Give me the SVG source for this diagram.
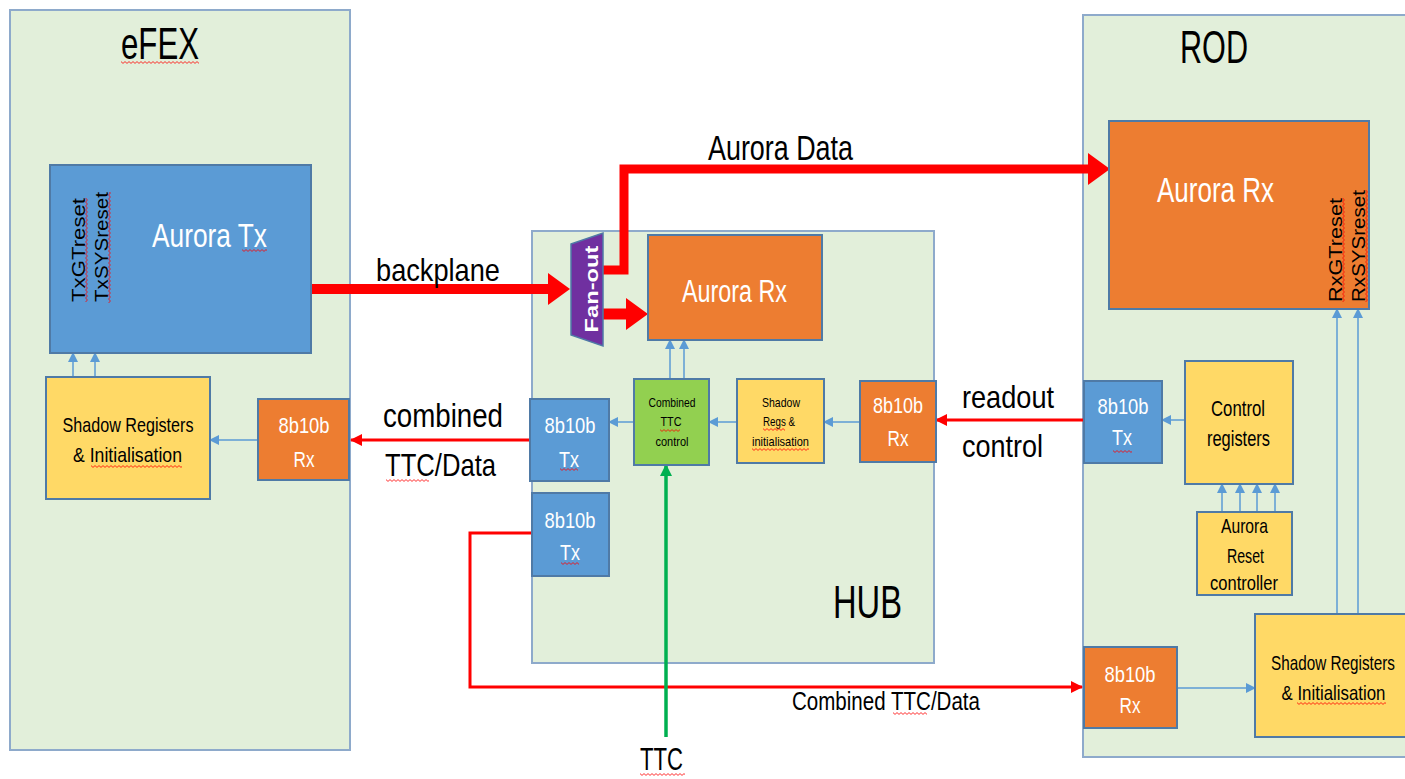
<svg xmlns="http://www.w3.org/2000/svg" width="1405" height="779" viewBox="0 0 1405 779">
  <style>
    text { font-family: "Liberation Sans", Arial, sans-serif; fill: #000; }
    .mid { text-anchor: middle; }
    .w { fill: #fff; }
    .crate { fill: #e2efda; stroke: #8eaacb; stroke-width: 2; }
    .box { stroke: #4f7aa6; stroke-width: 2; }
    .blue { fill: #5b9bd5; }
    .orange { fill: #ed7d31; }
    .yellow { fill: #ffd966; }
    .green { fill: #92d050; }
    .purple { fill: #7030a0; }
    .link { fill: none; stroke: #5b9bd5; stroke-width: 1.5; marker-end: url(#ah); }
    .red { fill: none; stroke: #ff0000; stroke-width: 3; marker-end: url(#rh); }
    .thick { fill: none; stroke: #ff0000; marker-end: url(#bh); stroke-linejoin: miter; }
    .sq { fill: url(#sq); }
  </style>
  <defs>
    <marker id="ah" markerUnits="userSpaceOnUse" markerWidth="10" markerHeight="10" refX="9" refY="5" orient="auto">
      <path d="M0,0 L10,5 L0,10 Z" fill="#5b9bd5"/>
    </marker>
    <marker id="rh" markerUnits="userSpaceOnUse" markerWidth="12" markerHeight="12" refX="11" refY="6" orient="auto">
      <path d="M0,0 L12,6 L0,12 Z" fill="#ff0000"/>
    </marker>
    <marker id="gh" markerUnits="userSpaceOnUse" markerWidth="12" markerHeight="12" refX="11" refY="6" orient="auto">
      <path d="M0,0 L12,6 L0,12 Z" fill="#00b050"/>
    </marker>
    <marker id="bh" markerUnits="userSpaceOnUse" markerWidth="22" markerHeight="32" refX="0" refY="16" orient="auto">
      <path d="M0,0 L22,16 L0,32 Z" fill="#ff0000"/>
    </marker>
    <!-- wavy spell-check underline -->
    <pattern id="sq" width="4" height="3" patternUnits="userSpaceOnUse">
      <path d="M0,0.6 L2,2.4 L4,0.6" fill="none" stroke="#ff0000" stroke-width="0.8"/>
    </pattern>
  </defs>

  <rect width="1405" height="779" fill="#fff"/>

  <!-- crates -->
  <g id="efex">
    <rect class="crate" x="10" y="10" width="340" height="740"/>
    <text class="mid" x="160" y="59" font-size="45" textLength="78" lengthAdjust="spacingAndGlyphs">eFEX</text>
    <rect class="sq" width="78" height="3" transform="translate(121,61)"/>
  </g>
  <g id="hub">
    <rect class="crate" x="532" y="231" width="402" height="432"/>
    <text class="mid" x="867.5" y="618" font-size="47" textLength="69" lengthAdjust="spacingAndGlyphs">HUB</text>
  </g>
  <g id="rod">
    <rect class="crate" x="1083" y="15" width="323" height="742"/>
    <text class="mid" x="1214" y="63" font-size="47" textLength="68" lengthAdjust="spacingAndGlyphs">ROD</text>
  </g>

  <!-- connectors -->
  <g id="connectors">
    <!-- eFEX internal -->
    <line class="link" x1="73" y1="376" x2="73" y2="353"/>
    <line class="link" x1="95" y1="376" x2="95" y2="353"/>
    <line class="link" x1="258" y1="440" x2="210" y2="440"/>
    <!-- HUB internal -->
    <line class="link" x1="670" y1="379" x2="670" y2="340"/>
    <line class="link" x1="684" y1="379" x2="684" y2="340"/>
    <line class="link" x1="737" y1="422" x2="709" y2="422"/>
    <line class="link" x1="634" y1="422" x2="609" y2="422"/>
    <line class="link" x1="860" y1="422" x2="824" y2="422"/>
    <!-- ROD internal -->
    <line class="link" x1="1185" y1="420" x2="1162" y2="420"/>
    <line class="link" x1="1222" y1="512" x2="1222" y2="484"/>
    <line class="link" x1="1240" y1="512" x2="1240" y2="484"/>
    <line class="link" x1="1257" y1="512" x2="1257" y2="484"/>
    <line class="link" x1="1275" y1="512" x2="1275" y2="484"/>
    <line class="link" x1="1337" y1="614" x2="1337" y2="309"/>
    <line class="link" x1="1358" y1="614" x2="1358" y2="309"/>
    <line class="link" x1="1177" y1="688" x2="1255" y2="688"/>

    <!-- links between crates -->
    <line class="red" x1="530" y1="440" x2="351" y2="440"/>
    <line class="red" x1="1083" y1="420" x2="936" y2="420"/>
    <path class="red" d="M532,533 H470 V687 H1082"/>
    <line x1="666" y1="737" x2="666" y2="465" stroke="#00b050" stroke-width="3.5" marker-end="url(#gh)"/>

    <!-- backplane and Aurora data -->
    <line class="thick" x1="311" y1="289" x2="548" y2="289" stroke-width="10"/>
    <line class="thick" x1="603" y1="314" x2="626" y2="314" stroke-width="11"/>
    <path class="thick" d="M603,270 H624 V169 H1088" stroke-width="9"/>

    <!-- labels -->
    <text class="mid" x="438" y="281" font-size="32" textLength="124" lengthAdjust="spacingAndGlyphs">backplane</text>
    <text class="mid" x="780.5" y="160" font-size="35" textLength="145" lengthAdjust="spacingAndGlyphs">Aurora Data</text>
    <text class="mid" x="443" y="427" font-size="33" textLength="120" lengthAdjust="spacingAndGlyphs">combined</text>
    <text class="mid" x="440.5" y="476" font-size="32" textLength="111" lengthAdjust="spacingAndGlyphs">TTC/Data</text>
    <rect class="sq" width="43" height="3" transform="translate(386,479)"/>
    <text class="mid" x="1008" y="408" font-size="32" textLength="92" lengthAdjust="spacingAndGlyphs">readout</text>
    <text class="mid" x="1002.5" y="457" font-size="32" textLength="81" lengthAdjust="spacingAndGlyphs">control</text>
    <text class="mid" x="886" y="710" font-size="25" textLength="188" lengthAdjust="spacingAndGlyphs">Combined TTC/Data</text>
    <rect class="sq" width="34" height="3" transform="translate(893,712)"/>
    <text class="mid" x="661.5" y="770" font-size="32" textLength="43" lengthAdjust="spacingAndGlyphs">TTC</text>
    <rect class="sq" width="45" height="3" transform="translate(640,773)"/>
  </g>

  <!-- eFEX nodes -->
  <g id="efex-aurora-tx">
    <rect class="box blue" x="50" y="165" width="261" height="188"/>
    <text class="mid w" x="209.5" y="247" font-size="33" textLength="115" lengthAdjust="spacingAndGlyphs">Aurora Tx</text>
    <rect class="sq" width="25" height="3" transform="translate(242,249)"/>
    <text class="mid" font-size="18" textLength="104" lengthAdjust="spacingAndGlyphs" transform="translate(85,250) rotate(-90)">TxGTreset</text>
    <text class="mid" font-size="18" textLength="110" lengthAdjust="spacingAndGlyphs" transform="translate(108,247) rotate(-90)">TxSYSreset</text>
    <rect class="sq" width="104" height="3" transform="translate(85,302) rotate(-90)"/>
    <rect class="sq" width="111" height="3" transform="translate(108,303) rotate(-90)"/>
  </g>
  <g id="efex-shadow">
    <rect class="box yellow" x="46" y="377" width="164" height="122"/>
    <text class="mid" x="128" y="432" font-size="21" textLength="131" lengthAdjust="spacingAndGlyphs">Shadow Registers</text>
    <text class="mid" x="127.5" y="462" font-size="21" textLength="109" lengthAdjust="spacingAndGlyphs">&amp; Initialisation</text>
    <rect class="sq" width="91" height="3" transform="translate(91,465)"/>
  </g>
  <g id="efex-rx">
    <rect class="box orange" x="258" y="399" width="91" height="81"/>
    <text class="mid w" x="304" y="433" font-size="22" textLength="51" lengthAdjust="spacingAndGlyphs">8b10b</text>
    <text class="mid w" x="304" y="467" font-size="22" textLength="21" lengthAdjust="spacingAndGlyphs">Rx</text>
  </g>

  <!-- HUB nodes -->
  <g id="hub-fanout">
    <polygon class="purple" points="571,244 603,233 603,346 571,335" stroke="#4f7aa6" stroke-width="1.5"/>
    <text class="mid w" font-size="19" font-weight="bold" textLength="87" lengthAdjust="spacingAndGlyphs" transform="translate(598,289) rotate(-90)">Fan-out</text>
  </g>
  <g id="hub-aurora-rx">
    <rect class="box orange" x="648" y="235" width="174" height="105"/>
    <text class="mid w" x="734.5" y="302" font-size="31" textLength="105" lengthAdjust="spacingAndGlyphs">Aurora Rx</text>
  </g>
  <g id="hub-ttc-control">
    <rect class="box green" x="634" y="379" width="75" height="86"/>
    <text class="mid" x="672" y="407" font-size="13" textLength="47" lengthAdjust="spacingAndGlyphs">Combined</text>
    <text class="mid" x="671" y="426" font-size="13" textLength="21" lengthAdjust="spacingAndGlyphs">TTC</text>
    <text class="mid" x="672" y="446" font-size="13" textLength="33" lengthAdjust="spacingAndGlyphs">control</text>
    <rect class="sq" width="20" height="3" transform="translate(660,429)"/>
  </g>
  <g id="hub-shadow">
    <rect class="box yellow" x="737" y="379" width="87" height="84"/>
    <text class="mid" x="781" y="407" font-size="13" textLength="38" lengthAdjust="spacingAndGlyphs">Shadow</text>
    <text class="mid" x="779" y="426" font-size="13" textLength="32" lengthAdjust="spacingAndGlyphs">Regs &amp;</text>
    <text class="mid" x="780.5" y="446" font-size="13" textLength="57" lengthAdjust="spacingAndGlyphs">initialisation</text>
    <rect class="sq" width="22" height="3" transform="translate(763,428)"/>
    <rect class="sq" width="57" height="3" transform="translate(752,448)"/>
  </g>
  <g id="hub-rx">
    <rect class="box orange" x="860" y="381" width="76" height="81"/>
    <text class="mid w" x="898" y="413" font-size="22" textLength="50" lengthAdjust="spacingAndGlyphs">8b10b</text>
    <text class="mid w" x="898" y="446" font-size="22" textLength="21" lengthAdjust="spacingAndGlyphs">Rx</text>
  </g>
  <g id="hub-tx-1">
    <rect class="box blue" x="530" y="399" width="79" height="82"/>
    <text class="mid w" x="570" y="433" font-size="22" textLength="51" lengthAdjust="spacingAndGlyphs">8b10b</text>
    <text class="mid w" x="569" y="467" font-size="22" textLength="20" lengthAdjust="spacingAndGlyphs">Tx</text>
    <rect class="sq" width="18" height="3" transform="translate(560,468)"/>
  </g>
  <g id="hub-tx-2">
    <rect class="box blue" x="532" y="493" width="77" height="83"/>
    <text class="mid w" x="570" y="528" font-size="22" textLength="51" lengthAdjust="spacingAndGlyphs">8b10b</text>
    <text class="mid w" x="570" y="560" font-size="22" textLength="20" lengthAdjust="spacingAndGlyphs">Tx</text>
    <rect class="sq" width="18" height="3" transform="translate(561,562)"/>
  </g>

  <!-- ROD nodes -->
  <g id="rod-aurora-rx">
    <rect class="box orange" x="1109" y="121" width="260" height="188"/>
    <text class="mid w" x="1215.5" y="202" font-size="35" textLength="117" lengthAdjust="spacingAndGlyphs">Aurora Rx</text>
    <text class="mid" font-size="18" textLength="104" lengthAdjust="spacingAndGlyphs" transform="translate(1342,250) rotate(-90)">RxGTreset</text>
    <text class="mid" font-size="18" textLength="112" lengthAdjust="spacingAndGlyphs" transform="translate(1365,246) rotate(-90)">RxSYSreset</text>
    <rect class="sq" width="104" height="3" transform="translate(1342,302) rotate(-90)"/>
    <rect class="sq" width="112" height="3" transform="translate(1365,302) rotate(-90)"/>
  </g>
  <g id="rod-tx">
    <rect class="box blue" x="1084" y="381" width="78" height="82"/>
    <text class="mid w" x="1123" y="414" font-size="22" textLength="51" lengthAdjust="spacingAndGlyphs">8b10b</text>
    <text class="mid w" x="1122" y="445" font-size="22" textLength="20" lengthAdjust="spacingAndGlyphs">Tx</text>
    <rect class="sq" width="19" height="3" transform="translate(1113,450)"/>
  </g>
  <g id="rod-control-registers">
    <rect class="box yellow" x="1185" y="361" width="108" height="123"/>
    <text class="mid" x="1238" y="416" font-size="22" textLength="54" lengthAdjust="spacingAndGlyphs">Control</text>
    <text class="mid" x="1238.5" y="446" font-size="22" textLength="63" lengthAdjust="spacingAndGlyphs">registers</text>
  </g>
  <g id="rod-reset-controller">
    <rect class="box yellow" x="1197" y="512" width="95" height="83"/>
    <text class="mid" x="1244.5" y="533" font-size="21" textLength="47" lengthAdjust="spacingAndGlyphs">Aurora</text>
    <text class="mid" x="1245.5" y="563" font-size="21" textLength="37" lengthAdjust="spacingAndGlyphs">Reset</text>
    <text class="mid" x="1244" y="590" font-size="21" textLength="68" lengthAdjust="spacingAndGlyphs">controller</text>
  </g>
  <g id="rod-rx">
    <rect class="box orange" x="1084" y="647" width="93" height="81"/>
    <text class="mid w" x="1130" y="682" font-size="22" textLength="51" lengthAdjust="spacingAndGlyphs">8b10b</text>
    <text class="mid w" x="1130" y="713" font-size="22" textLength="21" lengthAdjust="spacingAndGlyphs">Rx</text>
  </g>
  <g id="rod-shadow">
    <rect class="box yellow" x="1255" y="614" width="151" height="123"/>
    <text class="mid" x="1333" y="670" font-size="21" textLength="124" lengthAdjust="spacingAndGlyphs">Shadow Registers</text>
    <text class="mid" x="1333.5" y="700" font-size="21" textLength="104" lengthAdjust="spacingAndGlyphs">&amp; Initialisation</text>
    <rect class="sq" width="89" height="3" transform="translate(1297,702)"/>
  </g>
</svg>
